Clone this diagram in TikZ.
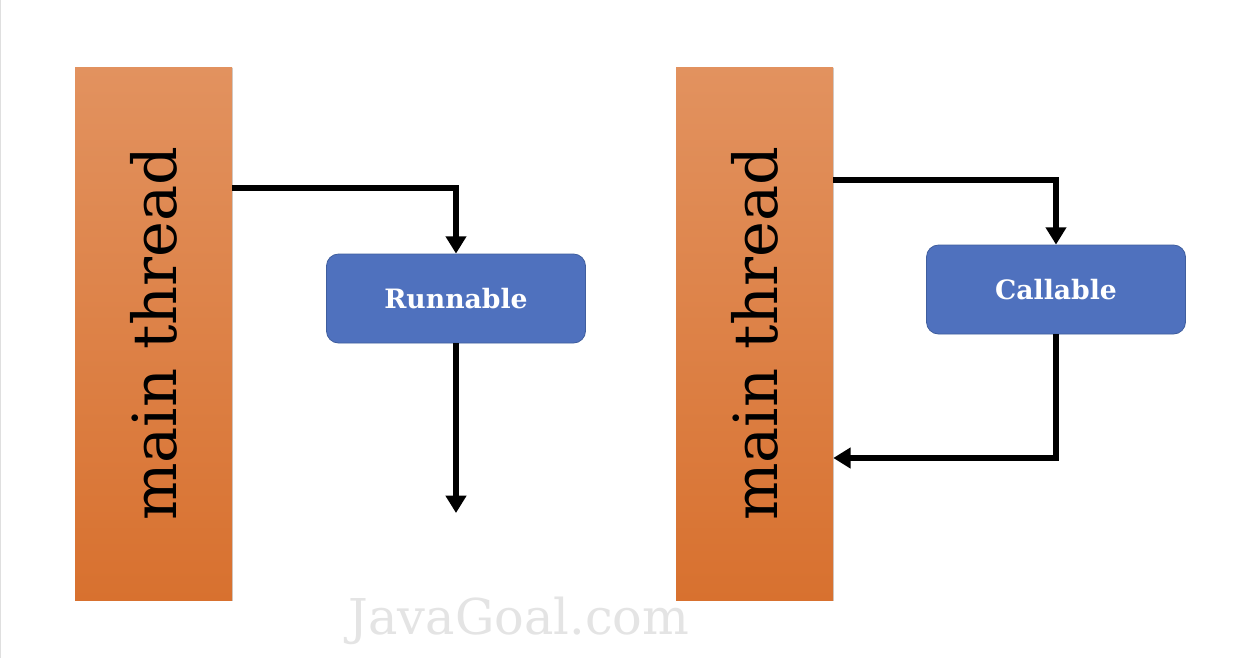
\documentclass[tikz,border=0pt]{standalone}
\usepackage{fontspec}
\setmainfont{DejaVu Serif}
\usetikzlibrary{arrows.meta,shadows}
\definecolor{orTop}{HTML}{E2925F}
\definecolor{orBot}{HTML}{D8712F}
\definecolor{bxFill}{HTML}{4F71BE}
\definecolor{bxLine}{HTML}{3F5E9E}
\definecolor{wm}{HTML}{E4E4E4}
\tikzset{
  bar/.style={draw=none, rectangle, top color=orTop, bottom color=orBot,
    minimum width=157*0.75pt, minimum height=533*0.75pt, inner sep=0pt,
    drop shadow={opacity=0.3, fill=black!60, shadow xshift=1pt, shadow yshift=-1pt}},
  bartext/.style={rotate=90, font=\fontsize{45.5}{52}\selectfont, text=black, inner sep=0pt},
  pbox/.style={rectangle, rounded corners=9pt, fill=bxFill, draw=bxLine, line width=0.6pt,
    minimum width=259*0.75pt, minimum height=89*0.75pt, inner sep=0pt,
    text=white, font=\bfseries\fontsize{20}{23}\selectfont},
  arr/.style={line width=4pt, -{Triangle[length=13pt,width=15pt]}},
}
\begin{document}
\begin{tikzpicture}[x=0.75pt,y=-0.75pt]
\useasboundingbox (0,0) rectangle (1258,658);
\fill[white] (0,0) rectangle (1258,658);
\draw[gray!25, line width=0.75pt] (0.5,0) -- (0.5,658);
% watermark
\node[text=wm, font=\fontsize{37}{42}\selectfont] (wm) at (519,621) {JavaGoal.com};
% bars
\node[bar] (bar1) at (153.5,333.5) {};
\node[bartext] (t1) at (153.5,333.5) {main thread};
\node[bar] (bar2) at (754.5,333.5) {};
\node[bartext] (t2) at (754.5,333.5) {main thread};
% boxes
\node[pbox] (run) at (456,298.5) {Runnable};
\node[pbox] (call) at (1056,289.5) {Callable};
\coordinate (rend) at (456,513);
% connectors
\draw[arr] (bar1.east |- 0,188) -| (run.north);
\draw[arr] (run.south) -- (rend);
\draw[arr] (bar2.east |- 0,180) -| (call.north);
\draw[arr] (call.south) |- (bar2.east |- 0,458);
\end{tikzpicture}
\end{document}
